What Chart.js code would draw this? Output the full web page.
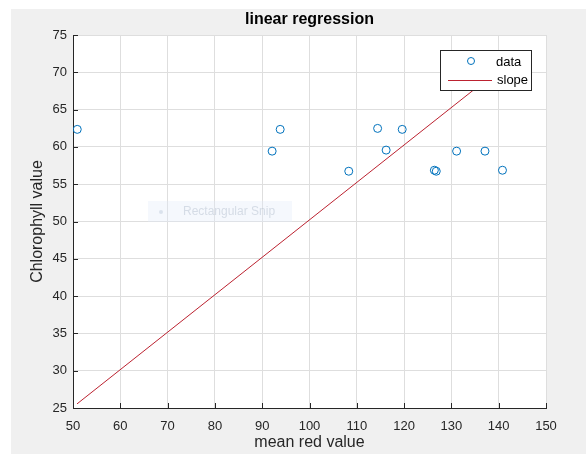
<!DOCTYPE html>
<html>
<head>
<meta charset="utf-8">
<script src="https://cdn.jsdelivr.net/npm/chart.js@4.4.1/dist/chart.umd.min.js"></script>
<style>
  html, body { margin: 0; padding: 0; background: #fff; }
</style>
</head>
<body>
<canvas id="RegressionChart" width="586" height="454"></canvas>
<script>
// samples: mean red value (x) vs chlorophyll value (y)
const redValues = [50.9, 92.1, 93.8, 108.3, 114.4, 116.2, 119.6, 126.4, 126.8, 131.1, 137.1, 140.8];
const chloroValues = [62.35, 59.43, 62.35, 56.74, 62.48, 59.57, 62.35, 56.87, 56.74, 59.43, 59.43, 56.87];

// fitted line, end points
const slopeX = [50.85, 140.8];
const slopeY = [25.55, 70.7];

const xTicks = [50, 60, 70, 80, 90, 100, 110, 120, 130, 140, 150];
const yTicks = [25, 30, 35, 40, 45, 50, 55, 60, 65, 70, 75];

const FONT = "'Liberation Sans', Arial, Helvetica, sans-serif";
const AXIS_COLOR = '#262626';

// gray figure background + white axes box
const backgroundPlugin = {
    id: 'figureBackground',
    beforeDraw(chart) {
        const {ctx, chartArea: a} = chart;
        ctx.save();
        ctx.fillStyle = '#ffffff';
        ctx.fillRect(0, 0, chart.width, chart.height);
        ctx.fillStyle = '#f0f0f0';
        ctx.fillRect(11, 9, chart.width - 11, chart.height - 9);
        ctx.fillStyle = '#ffffff';
        ctx.fillRect(a.left, a.top, a.right - a.left, a.bottom - a.top);
        ctx.restore();
    }
};

// matlab style inward tick marks
const innerTicksPlugin = {
    id: 'innerTicks',
    afterDatasetsDraw(chart) {
        const {ctx, chartArea: a, scales} = chart;
        ctx.save();
        ctx.strokeStyle = AXIS_COLOR;
        ctx.lineWidth = 1;
        ctx.beginPath();
        scales.x.ticks.forEach(t => {
            const px = Math.round(scales.x.getPixelForValue(t.value)) + 0.5;
            ctx.moveTo(px, a.bottom);
            ctx.lineTo(px, a.bottom - 5);
        });
        scales.y.ticks.forEach(t => {
            const py = Math.round(scales.y.getPixelForValue(t.value)) + 0.5;
            ctx.moveTo(a.left, py);
            ctx.lineTo(a.left + 5, py);
        });
        ctx.stroke();
        ctx.restore();
    }
};

// legend box in the top right corner of the axes
const boxLegendPlugin = {
    id: 'boxLegend',
    afterDraw(chart) {
        const {ctx, chartArea: a} = chart;
        const ds = chart.data.datasets;
        const left = a.right - 105.5, top = a.top + 15.5;
        ctx.save();
        ctx.fillStyle = '#ffffff';
        ctx.fillRect(left, top, 91, 40);
        ctx.strokeStyle = AXIS_COLOR;
        ctx.lineWidth = 1;
        ctx.strokeRect(left, top, 91, 40);

        ctx.strokeStyle = ds[0].borderColor;
        ctx.beginPath();
        ctx.arc(a.right - 75, a.top + 26, 3.5, 0, Math.PI * 2);
        ctx.stroke();

        ctx.strokeStyle = ds[1].borderColor;
        ctx.beginPath();
        ctx.moveTo(a.right - 98, a.top + 45.5);
        ctx.lineTo(a.right - 54, a.top + 45.5);
        ctx.stroke();

        ctx.fillStyle = '#000000';
        ctx.font = '13px ' + FONT;
        ctx.textBaseline = 'middle';
        ctx.textAlign = 'left';
        ctx.fillText(ds[0].label, a.right - 50, a.top + 27);
        ctx.fillText(ds[1].label, a.right - 49, a.top + 45);
        ctx.restore();
    }
};

// faint screen-capture overlay seen in the source picture
const snipPlugin = {
    id: 'snipOverlay',
    afterDraw(chart) {
        const {ctx} = chart;
        ctx.save();
        ctx.fillStyle = 'rgba(225, 236, 248, 0.35)';
        ctx.fillRect(148, 201, 144, 21);
        ctx.fillStyle = 'rgba(170, 185, 205, 0.35)';
        ctx.beginPath();
        ctx.arc(161, 212, 2, 0, Math.PI * 2);
        ctx.fill();
        ctx.fillStyle = 'rgba(165, 178, 196, 0.4)';
        ctx.font = '12px ' + FONT;
        ctx.textBaseline = 'middle';
        ctx.fillText('Rectangular Snip', 183, 212);
        ctx.restore();
    }
};

let ctx = document.getElementById('RegressionChart').getContext('2d');

new Chart(ctx, {
    type: 'scatter',
    data: {
        datasets: [
            {
                label: 'data',
                data: redValues.map((v, i) => ({x: v, y: chloroValues[i]})),
                borderColor: '#0072BD',
                backgroundColor: 'rgba(0,0,0,0)',
                borderWidth: 1,
                pointRadius: 4,
                pointStyle: 'circle'
            },
            {
                label: 'slope',
                type: 'line',
                data: slopeX.map((v, i) => ({x: v, y: slopeY[i]})),
                borderColor: '#BC2230',
                borderWidth: 1,
                pointRadius: 0,
                fill: false
            }
        ]
    },
    options: {
        responsive: false,
        animation: false,
        layout: { padding: { left: 0, right: 40, top: 0, bottom: 0 } },
        plugins: {
            legend: { display: false },
            tooltip: { enabled: false },
            title: {
                display: true,
                text: 'linear regression',
                fullSize: false,
                color: '#000000',
                font: { family: FONT, size: 16, weight: 'bold', lineHeight: 1.2 },
                padding: { top: 10, bottom: 5.8 }
            }
        },
        scales: {
            x: {
                type: 'linear',
                min: xTicks[0],
                max: xTicks[xTicks.length - 1],
                afterBuildTicks: s => { s.ticks = xTicks.map(v => ({value: v})); },
                afterFit: s => { s.height = 46; },
                grid: { color: '#dedede', drawTicks: false },
                border: { color: AXIS_COLOR, width: 1 },
                ticks: { color: AXIS_COLOR, font: { family: FONT, size: 13 }, padding: 11, maxRotation: 0 },
                title: {
                    display: true,
                    text: 'mean red value',
                    color: AXIS_COLOR,
                    font: { family: FONT, size: 16, lineHeight: 1.2 },
                    padding: { top: 0, bottom: 2 }
                }
            },
            y: {
                type: 'linear',
                min: yTicks[0],
                max: yTicks[yTicks.length - 1],
                afterBuildTicks: s => { s.ticks = yTicks.map(v => ({value: v})); },
                afterFit: s => { s.width = 73; },
                grid: { color: '#dedede', drawTicks: false },
                border: { color: AXIS_COLOR, width: 1 },
                ticks: { color: AXIS_COLOR, font: { family: FONT, size: 13 }, padding: 6 },
                title: {
                    display: true,
                    text: 'Chlorophyll value',
                    color: AXIS_COLOR,
                    font: { family: FONT, size: 16, lineHeight: 1.2 },
                    padding: { top: 28, bottom: 0 }
                }
            }
        }
    },
    plugins: [backgroundPlugin, innerTicksPlugin, snipPlugin, boxLegendPlugin]
});
</script>
</body>
</html>
